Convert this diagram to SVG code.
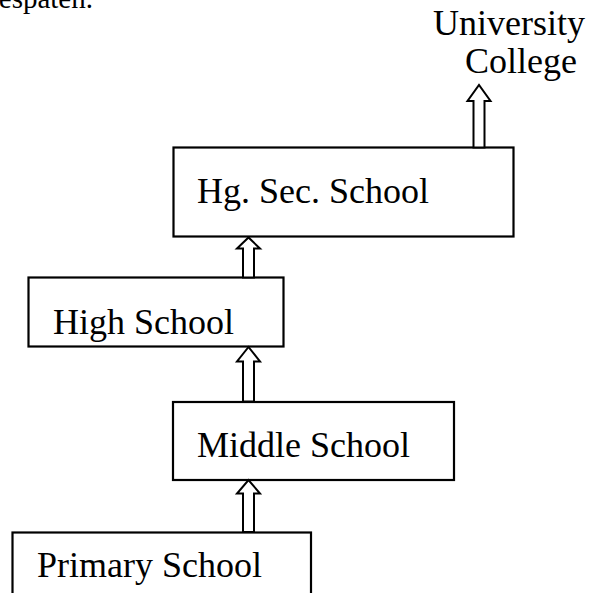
<svg xmlns="http://www.w3.org/2000/svg" width="592" height="593" viewBox="0 0 592 593">
<style>
.box{fill:#fff;stroke:#000;stroke-width:2.2}
.lbl{font-family:"Liberation Serif","Times New Roman",serif;font-size:36px;fill:#000}
.arr{fill:#fff;stroke:#000;stroke-width:2;stroke-linejoin:miter}
</style>
<rect width="592" height="593" fill="#fff"/>
<text class="lbl" x="93" y="8" text-anchor="end" style="font-size:29px">espaten.</text>
<g id="university">
<text class="lbl" x="509" y="35" text-anchor="middle">University</text>
<text class="lbl" x="521" y="73" text-anchor="middle">College</text>
</g>
<g id="hgsec">
<rect class="box" x="173.5" y="147.5" width="340" height="89"/>
<text class="lbl" x="197" y="203">Hg. Sec. School</text>
</g>
<g id="high">
<rect class="box" x="28.5" y="277.5" width="255" height="69"/>
<text class="lbl" x="53" y="334">High School</text>
</g>
<g id="middle">
<rect class="box" x="173" y="402" width="281" height="78"/>
<text class="lbl" x="197" y="457">Middle School</text>
</g>
<g id="primary">
<rect class="box" x="12.5" y="532.5" width="298.5" height="70"/>
<text class="lbl" x="37" y="577">Primary School</text>
</g>
<g id="connectors">
<polygon class="arr" points="473.5,147.5 473.5,101 467.5,101 479,85 490.5,101 484.5,101 484.5,147.5"/>
<polygon class="arr" points="243,277.5 243,248.5 237,248.5 248.5,237.5 260,248.5 254,248.5 254,277.5"/>
<polygon class="arr" points="243,401.5 243,361.5 237,361.5 248.5,347 260,361.5 254,361.5 254,401.5"/>
<polygon class="arr" points="243,532 243,493.5 237,493.5 248.5,480 260,493.5 254,493.5 254,532"/>
</g>
</svg>
